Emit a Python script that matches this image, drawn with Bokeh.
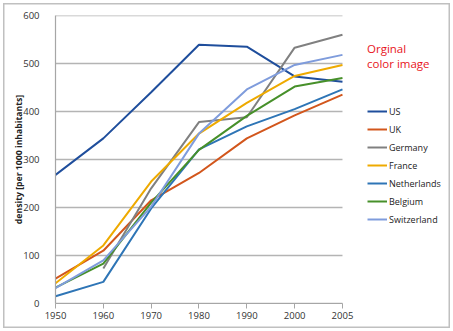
import math
from bokeh.plotting import figure
from bokeh.models import Range1d, FixedTicker, Legend, LegendItem, InlineStyleSheet
from bokeh.embed import file_html
from bokeh.resources import INLINE

years = ["1950", "1960", "1970", "1980", "1990", "2000", "2005"]
us = [268, 344, 440, 539, 535, 473, 462]
uk = [52, 110, 215, 272, 344, 392, 435]
germany = [float("nan"), 73, 240, 378, 388, 533, 560]
france = [42, 121, 254, 354, 418, 474, 497]
netherlands = [15, 45, 198, 321, 369, 405, 446]
belgium = [33, 83, 210, 320, 391, 452, 470]
switzerland = [32, 90, 202, 354, 446, 497, 518]
y_ticks = [0, 100, 200, 300, 400, 500, 600]

series = [
    ("US", us, "#1F4E9C"),
    ("UK", uk, "#D2561C"),
    ("Germany", germany, "#808080"),
    ("France", france, "#EEAA00"),
    ("Netherlands", netherlands, "#2E75B6"),
    ("Belgium", belgium, "#47902A"),
    ("Switzerland", switzerland, "#7F9CDC"),
]

FONT = "Open Sans"
xs = list(range(len(years)))
n_last = xs[-1]

# frame spans to the right edge so the legend/notes can sit inside it
p = figure(width=453, height=331, output_backend="svg", toolbar_location=None,
           x_range=Range1d(0, 8.154), y_range=Range1d(0, 600),
           min_border_left=55, min_border_right=8, min_border_top=15, min_border_bottom=28)
p.outline_line_color = None
p.background_fill_color = None
p.border_fill_color = None
box_css = "inset 0 0 0 3px white, inset 0 0 0 4.5px #C0C0C0"
p.styles = {"background-color": "white", "box-shadow": box_css}
p.stylesheets = [InlineStyleSheet(css=":host { background-color: white; box-shadow: %s; }" % box_css)]

p.xgrid.grid_line_color = None
p.ygrid.grid_line_color = None
p.segment(x0=[0] * len(y_ticks), x1=[n_last] * len(y_ticks), y0=y_ticks, y1=y_ticks,
          line_color="#B4B4B4", line_width=1.3)

p.yaxis.ticker = FixedTicker(ticks=y_ticks)
p.xaxis.ticker = FixedTicker(ticks=xs)
p.xaxis.bounds = (0, n_last)
p.xaxis.major_label_overrides = {i: y for i, y in enumerate(years)}

for ax in (p.xaxis, p.yaxis):
    ax.axis_line_color = "#A6A6A6"
    ax.axis_line_width = 1.2
    ax.major_label_text_font = FONT
    ax.major_label_text_font_size = "9.5px"
    ax.major_label_text_color = "#333333"
    ax.minor_tick_line_color = None
p.xaxis.major_tick_line_color = "#A6A6A6"
p.xaxis.major_tick_out = 5
p.xaxis.major_tick_in = 0
p.xaxis.major_label_standoff = 3
p.yaxis.major_tick_line_color = None
p.yaxis.major_label_standoff = 10
p.yaxis.axis_label = "density [per 1000 inhabitants]"
p.yaxis.axis_label_text_font = FONT
p.yaxis.axis_label_text_font_size = "8.7px"
p.yaxis.axis_label_text_font_style = "bold"
p.yaxis.axis_label_text_color = "#222222"
p.yaxis.axis_label_standoff = -5

items = []
for name, vals, col in series:
    xv = [x for x, v in zip(xs, vals) if not (isinstance(v, float) and math.isnan(v))]
    yv = [v for v in vals if not (isinstance(v, float) and math.isnan(v))]
    r = p.line(xv, yv, line_color=col, line_width=2)
    items.append(LegendItem(label=name, renderers=[r]))

legend = Legend(items=items, location=(312, 77))
legend.title = "Orginal\ncolor image"
legend.title_text_color = "#E8141B"
legend.title_text_font = FONT
legend.title_text_font_size = "11.5px"
legend.title_text_font_style = "normal"
legend.title_standoff = 33
legend.glyph_width = 20
legend.glyph_height = 14
legend.label_height = 14
legend.spacing = 4
legend.padding = 0
legend.margin = 0
legend.label_standoff = 2
legend.border_line_color = None
legend.background_fill_alpha = 0
legend.label_text_font = FONT
legend.label_text_font_size = "9px"
legend.label_text_color = "#222222"
p.add_layout(legend)

open("out.html", "w").write(file_html(p, INLINE))
